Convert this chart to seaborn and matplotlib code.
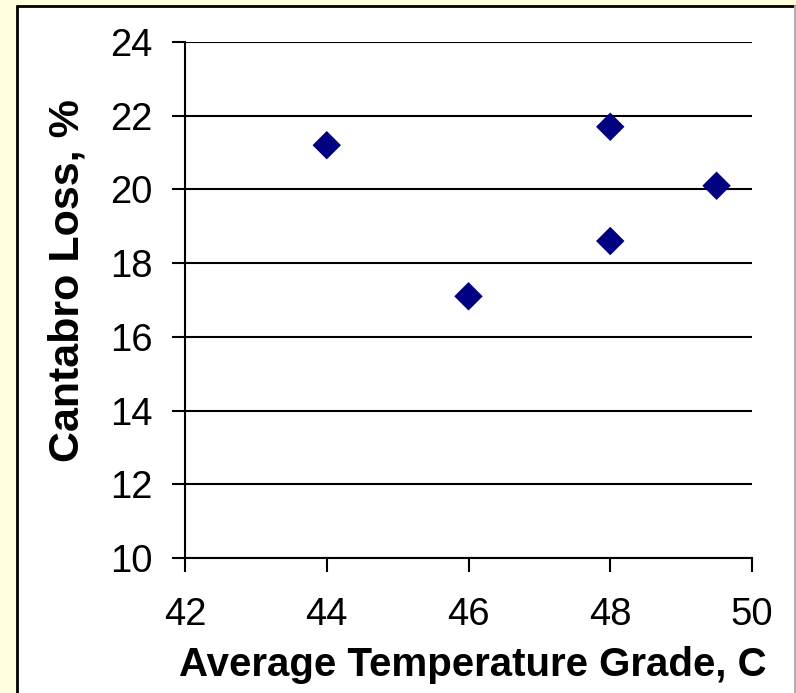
import matplotlib
matplotlib.use("Agg")
import matplotlib.pyplot as plt
import seaborn as sns
import pandas as pd
from matplotlib.patches import Rectangle
from matplotlib.lines import Line2D

temperature_grade = [44, 46, 48, 48, 49.5]
cantabro_loss = [21.2, 17.1, 21.7, 18.6, 20.1]
x_ticks = [42, 44, 46, 48, 50]
y_ticks = [10, 12, 14, 16, 18, 20, 22, 24]

df = pd.DataFrame({"grade": temperature_grade, "loss": cantabro_loss})

sns.set_theme(style="white")
plt.rcParams['font.family'] = ['Liberation Sans', 'DejaVu Sans']
plt.rcParams.update({"text.color": "black", "axes.labelcolor": "black",
                     "xtick.color": "black", "ytick.color": "black"})

fig = plt.figure(figsize=(7.96, 6.93), dpi=100)
fig.patch.set_facecolor("#FFFFDD")

# white chart panel
top = 1 - 6/693
fig.patches.append(Rectangle((17/796, -0.01), (795-17)/796, top + 0.01,
                             transform=fig.transFigure, facecolor="white",
                             edgecolor="none", zorder=-2))
fig.lines.append(Line2D([17/796, 795/796], [top, top], transform=fig.transFigure,
                        color="black", lw=2, zorder=-1))
fig.lines.append(Line2D([17/796, 17/796], [0, top], transform=fig.transFigure,
                        color="black", lw=2, zorder=-1))
fig.lines.append(Line2D([795/796, 795/796], [0, top], transform=fig.transFigure,
                        color="#B0B0B0", lw=1.5, zorder=-1))

ax = fig.add_axes([185/796, 1 - 558/693, (752-185)/796, (558-42)/693])
ax.set_facecolor("white")

sns.scatterplot(data=df, x="grade", y="loss", marker="D", s=210, color="#000080",
                edgecolor="none", ax=ax, zorder=3, clip_on=False)

ax.set_xlim(42, 50)
ax.set_ylim(10, 24)
ax.set_xticks(x_ticks)
ax.set_yticks(y_ticks)
ax.yaxis.grid(True, color="black", lw=1.5)
ax.xaxis.grid(False)
ax.set_axisbelow(True)
for s in ["top", "right"]:
    ax.spines[s].set_visible(False)
for s in ["left", "bottom"]:
    ax.spines[s].set_color("black")
    ax.spines[s].set_linewidth(1.5)

ax.tick_params(axis="y", direction="out", length=9.5, width=1.5, color="black",
               labelsize=27.5, pad=14, left=True, labelcolor="black")
ax.tick_params(axis="x", direction="out", length=10, width=1.5, color="black",
               labelsize=27.5, pad=18, bottom=True, labelcolor="black")
ax.set_xlabel("Average Temperature Grade, C", fontsize=29, fontweight="bold",
              color="black")
ax.set_ylabel("Cantabro Loss, %", fontsize=31, fontweight="bold", color="black")
ax.xaxis.set_label_coords(0.507, -0.170)
ax.yaxis.set_label_coords(-0.172, 0.537)

fig.savefig("out.png", dpi=100, facecolor=fig.get_facecolor())
